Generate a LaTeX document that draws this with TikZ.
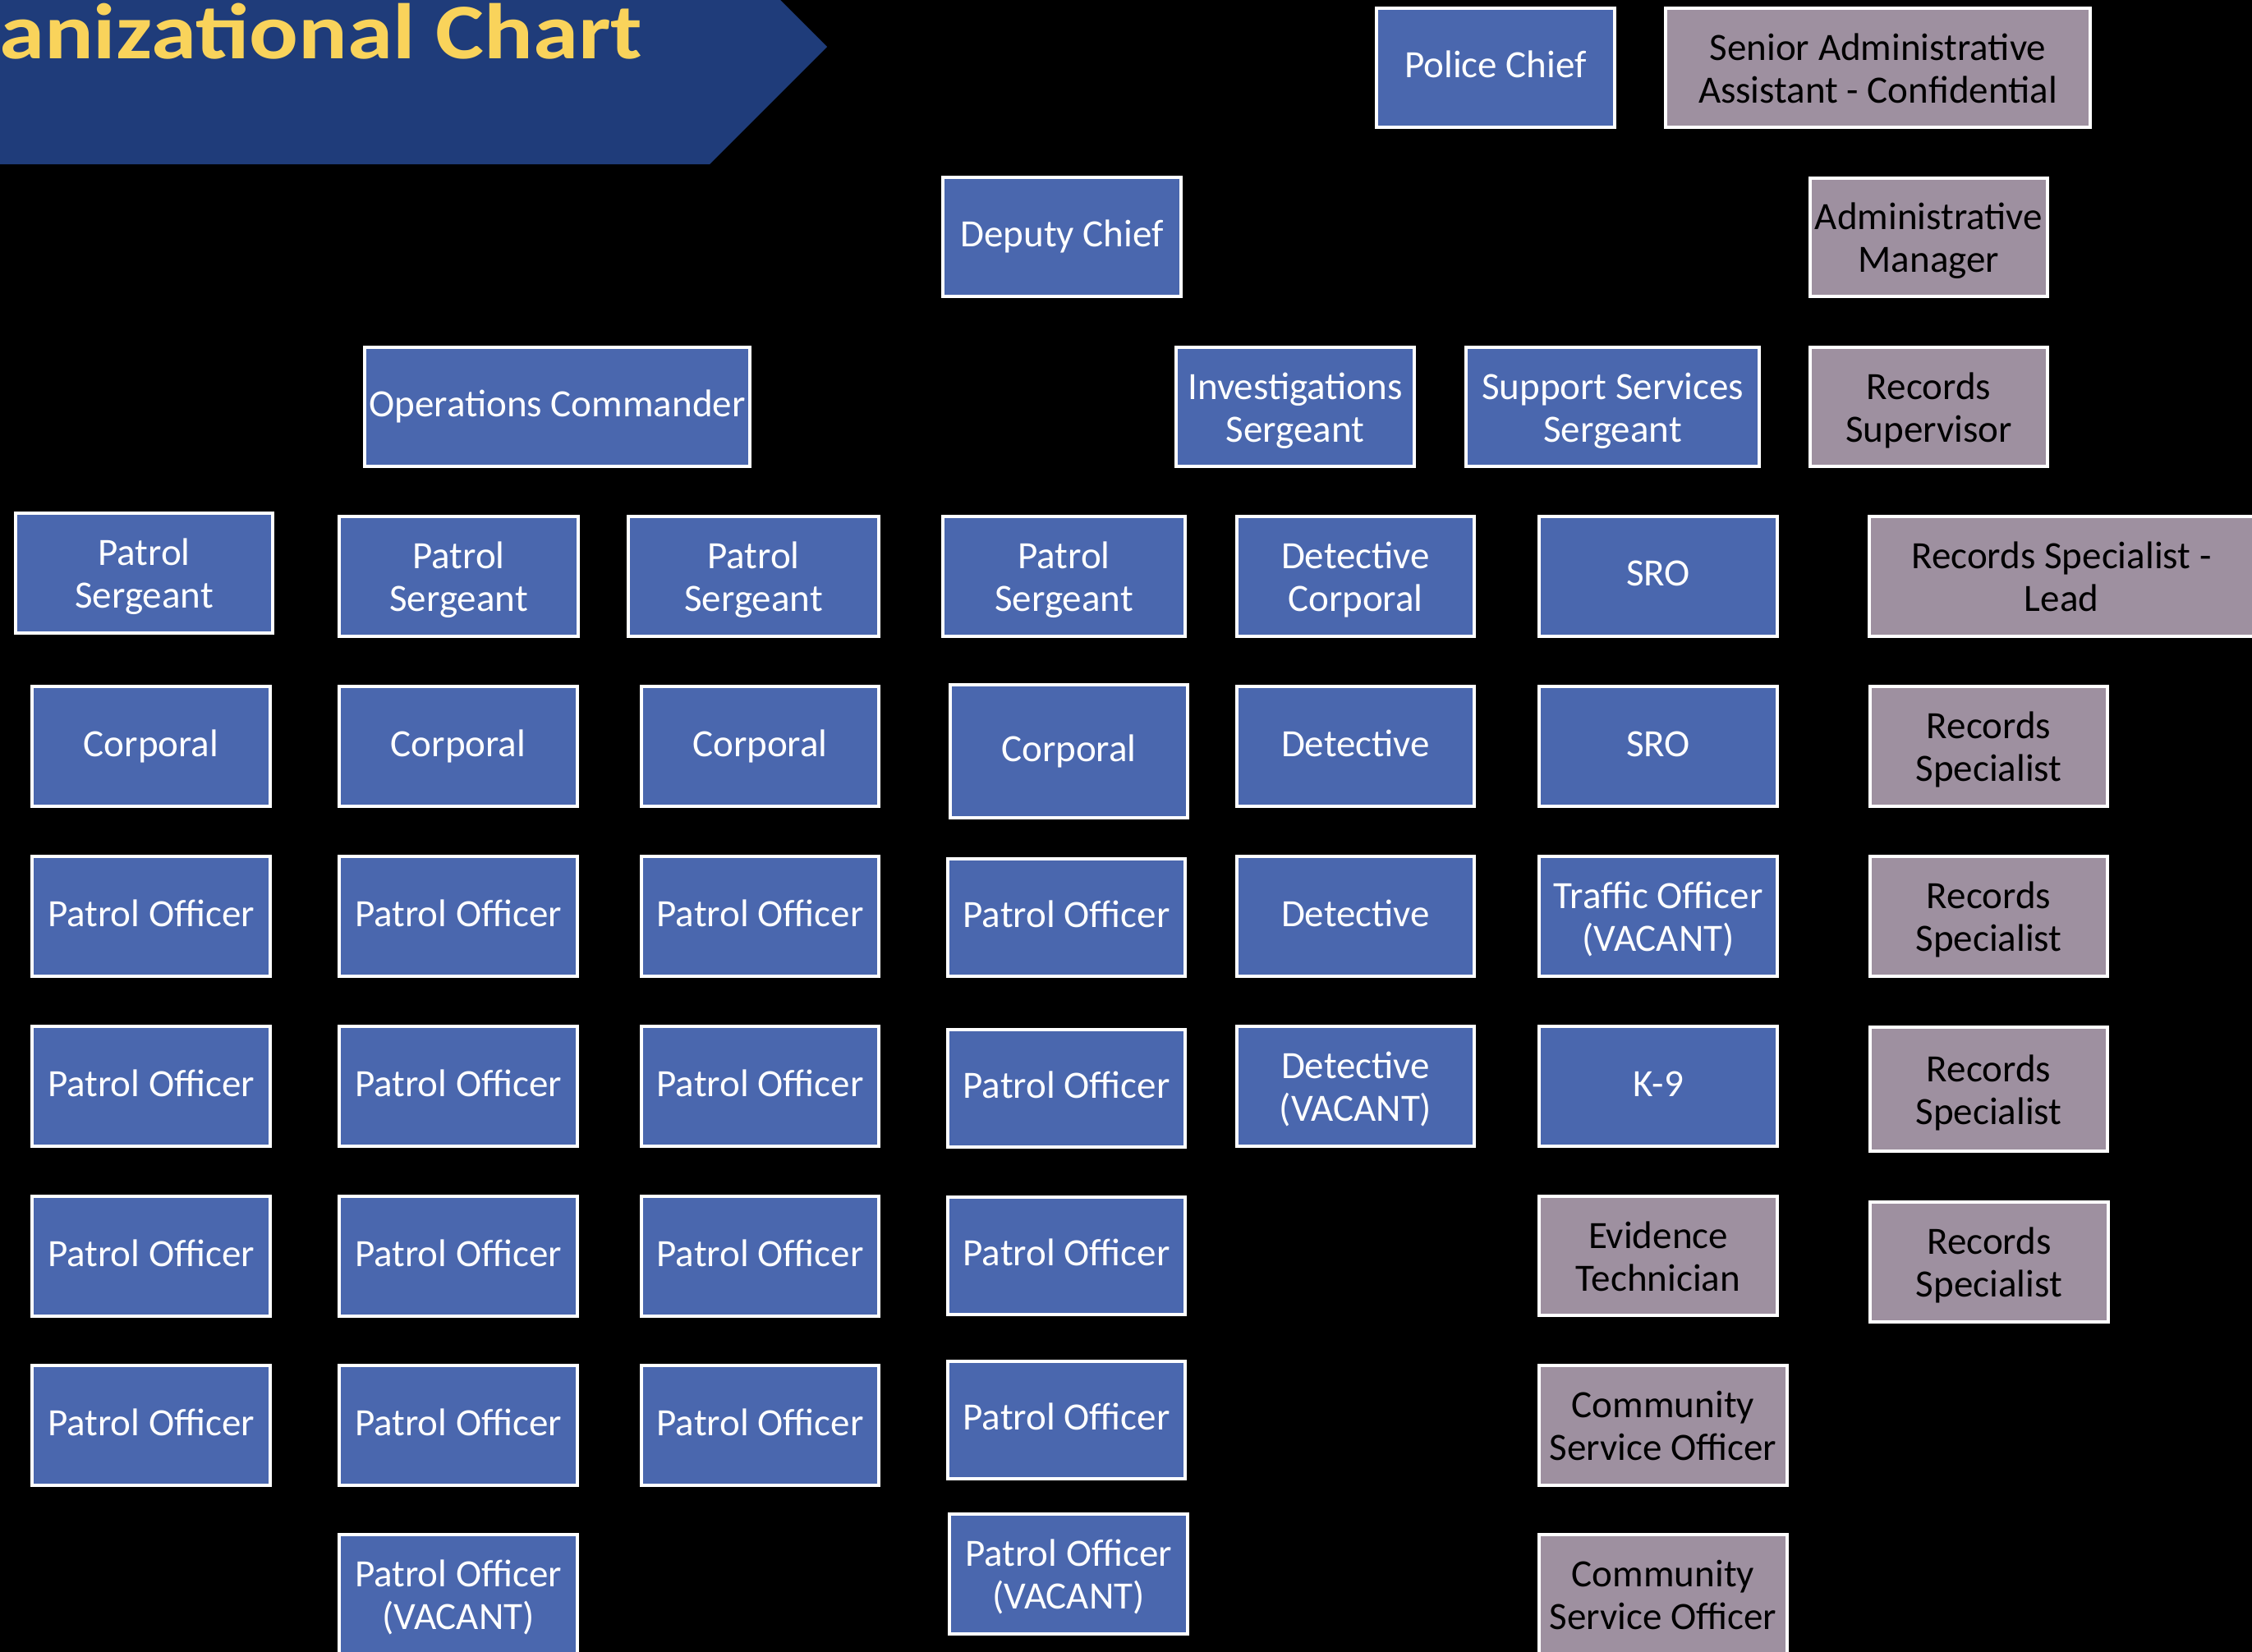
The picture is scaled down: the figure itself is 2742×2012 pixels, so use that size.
\documentclass[tikz,border=0pt]{standalone}
\usepackage{fontspec}
\setmainfont{Carlito}
\definecolor{boxblue}{HTML}{4A67AE}
\definecolor{boxgray}{HTML}{9E90A0}
\definecolor{bannerblue}{HTML}{1F3C7A}
\definecolor{titleyellow}{HTML}{F9D35B}
\newcommand\ostrut{\rule[-0.25em]{0pt}{1.01em}}
\newcommand\topstrut{\rule{0pt}{0.97em}}
\newcommand\botstrut{\rule[-0.25em]{0pt}{0.25em}}
\newcommand\bx[7]{\node[#2,minimum width={(#5-#3-4)*0.01cm},minimum height={(#6-#4-4)*0.01cm}] (#1) at ({(#3+#5)/2},{(#4+#6)/2}) {\ostrut#7};}
\newcommand\bxx[8]{\node[#2,minimum width={(#5-#3-4)*0.01cm},minimum height={(#6-#4-4)*0.01cm}] (#1) at ({(#3+#5)/2},{(#4+#6)/2}) {\topstrut#7\\#8\botstrut};}
\begin{document}
\begin{tikzpicture}[x=0.01cm,y=-0.01cm,
  box/.style={draw=white,line width=0.04cm,inner sep=0pt,align=center,
    font=\fontsize{13.37pt}{14.8pt}\selectfont},
  bluebox/.style={box,fill=boxblue,text=white},
  graybox/.style={box,fill=boxgray,text=black}]
\useasboundingbox (0,0) rectangle (2742,2012);
\clip (0,0) rectangle (2742,2012);
\fill[black] (0,0) rectangle (2742,2012);
% banner
\fill[bannerblue] (-10,-86) -- (864,-86) -- (1007,57) -- (864,200) -- (-10,200) -- cycle;
\node[anchor=base east,inner sep=0pt,xscale=1.16,text=titleyellow,font=\fontsize{27.3pt}{30pt}\selectfont\bfseries] (title) at (783,71) {anizational Chart};
% top levels
\bx{chief}{bluebox}{1674}{8}{1968}{157}{Police Chief}
\bxx{senior}{graybox}{2026}{8}{2547}{157}{Senior Administrative}{Assistant - Confidential}
\bx{deputy}{bluebox}{1146}{214}{1440}{363}{Deputy Chief}
\bxx{adminmgr}{graybox}{2202}{215}{2495}{363}{Administrative}{Manager}
\bx{opscmd}{bluebox}{442}{421}{915}{570}{Operations Commander}
\bxx{invsgt}{bluebox}{1430}{421}{1724}{570}{Investigations}{Sergeant}
\bxx{supsgt}{bluebox}{1783}{421}{2144}{570}{Support Services}{Sergeant}
\bxx{recsup}{graybox}{2202}{421}{2495}{570}{Records}{Supervisor}
% row 1
\bxx{ps1}{bluebox}{17}{623}{334}{773}{Patrol}{Sergeant}
\bxx{ps2}{bluebox}{411}{627}{706}{777}{Patrol}{Sergeant}
\bxx{ps3}{bluebox}{763}{627}{1072}{777}{Patrol}{Sergeant}
\bxx{ps4}{bluebox}{1146}{627}{1445}{777}{Patrol}{Sergeant}
\bxx{detcorp}{bluebox}{1504}{627}{1797}{777}{Detective}{Corporal}
\bx{sroA}{bluebox}{1872}{627}{2166}{777}{SRO}
\bxx{reclead}{graybox}{2274}{627}{2746}{777}{Records Specialist -}{Lead}
% row 2
\bx{corp1}{bluebox}{37}{834}{331}{984}{Corporal}
\bx{corp2}{bluebox}{411}{834}{705}{984}{Corporal}
\bx{corp3}{bluebox}{779}{834}{1072}{984}{Corporal}
\bx{corp4}{bluebox}{1155}{832}{1448}{998}{Corporal}
\bx{detA}{bluebox}{1504}{834}{1797}{984}{Detective}
\bx{sroB}{bluebox}{1872}{834}{2166}{984}{SRO}
\bxx{recA}{graybox}{2275}{834}{2568}{984}{Records}{Specialist}
% row 3
\bx{po13}{bluebox}{37}{1041}{331}{1191}{Patrol Officer}
\bx{po23}{bluebox}{411}{1041}{705}{1191}{Patrol Officer}
\bx{po33}{bluebox}{779}{1041}{1072}{1191}{Patrol Officer}
\bx{po43}{bluebox}{1152}{1044}{1445}{1191}{Patrol Officer}
\bx{detB}{bluebox}{1504}{1041}{1797}{1191}{Detective}
\bxx{traffic}{bluebox}{1872}{1041}{2166}{1191}{Traffic Officer}{(VACANT)}
\bxx{recB}{graybox}{2275}{1041}{2568}{1191}{Records}{Specialist}
% row 4
\bx{po14}{bluebox}{37}{1248}{331}{1398}{Patrol Officer}
\bx{po24}{bluebox}{411}{1248}{705}{1398}{Patrol Officer}
\bx{po34}{bluebox}{779}{1248}{1072}{1398}{Patrol Officer}
\bx{po44}{bluebox}{1152}{1252}{1445}{1399}{Patrol Officer}
\bxx{detvac}{bluebox}{1504}{1248}{1797}{1398}{Detective}{(VACANT)}
\bx{knine}{bluebox}{1872}{1248}{2166}{1398}{K-9}
\bxx{recC}{graybox}{2275}{1249}{2568}{1404}{Records}{Specialist}
% row 5
\bx{po15}{bluebox}{37}{1455}{331}{1605}{Patrol Officer}
\bx{po25}{bluebox}{411}{1455}{705}{1605}{Patrol Officer}
\bx{po35}{bluebox}{779}{1455}{1072}{1605}{Patrol Officer}
\bx{po45}{bluebox}{1152}{1456}{1445}{1603}{Patrol Officer}
\bxx{evid}{graybox}{1872}{1455}{2166}{1604}{Evidence}{Technician}
\bxx{recD}{graybox}{2275}{1462}{2569}{1612}{Records}{Specialist}
% row 6
\bx{po16}{bluebox}{37}{1661}{331}{1811}{Patrol Officer}
\bx{po26}{bluebox}{411}{1661}{705}{1811}{Patrol Officer}
\bx{po36}{bluebox}{779}{1661}{1072}{1811}{Patrol Officer}
\bx{po46}{bluebox}{1152}{1656}{1445}{1803}{Patrol Officer}
\bxx{csoA}{graybox}{1872}{1661}{2178}{1811}{Community}{Service Officer}
% row 7
\bxx{po27}{bluebox}{411}{1867}{705}{2017}{Patrol Officer}{(VACANT)}
\bxx{po47}{bluebox}{1154}{1842}{1448}{1992}{Patrol Officer}{(VACANT)}
\bxx{csoB}{graybox}{1872}{1867}{2178}{2017}{Community}{Service Officer}
\end{tikzpicture}
\end{document}
